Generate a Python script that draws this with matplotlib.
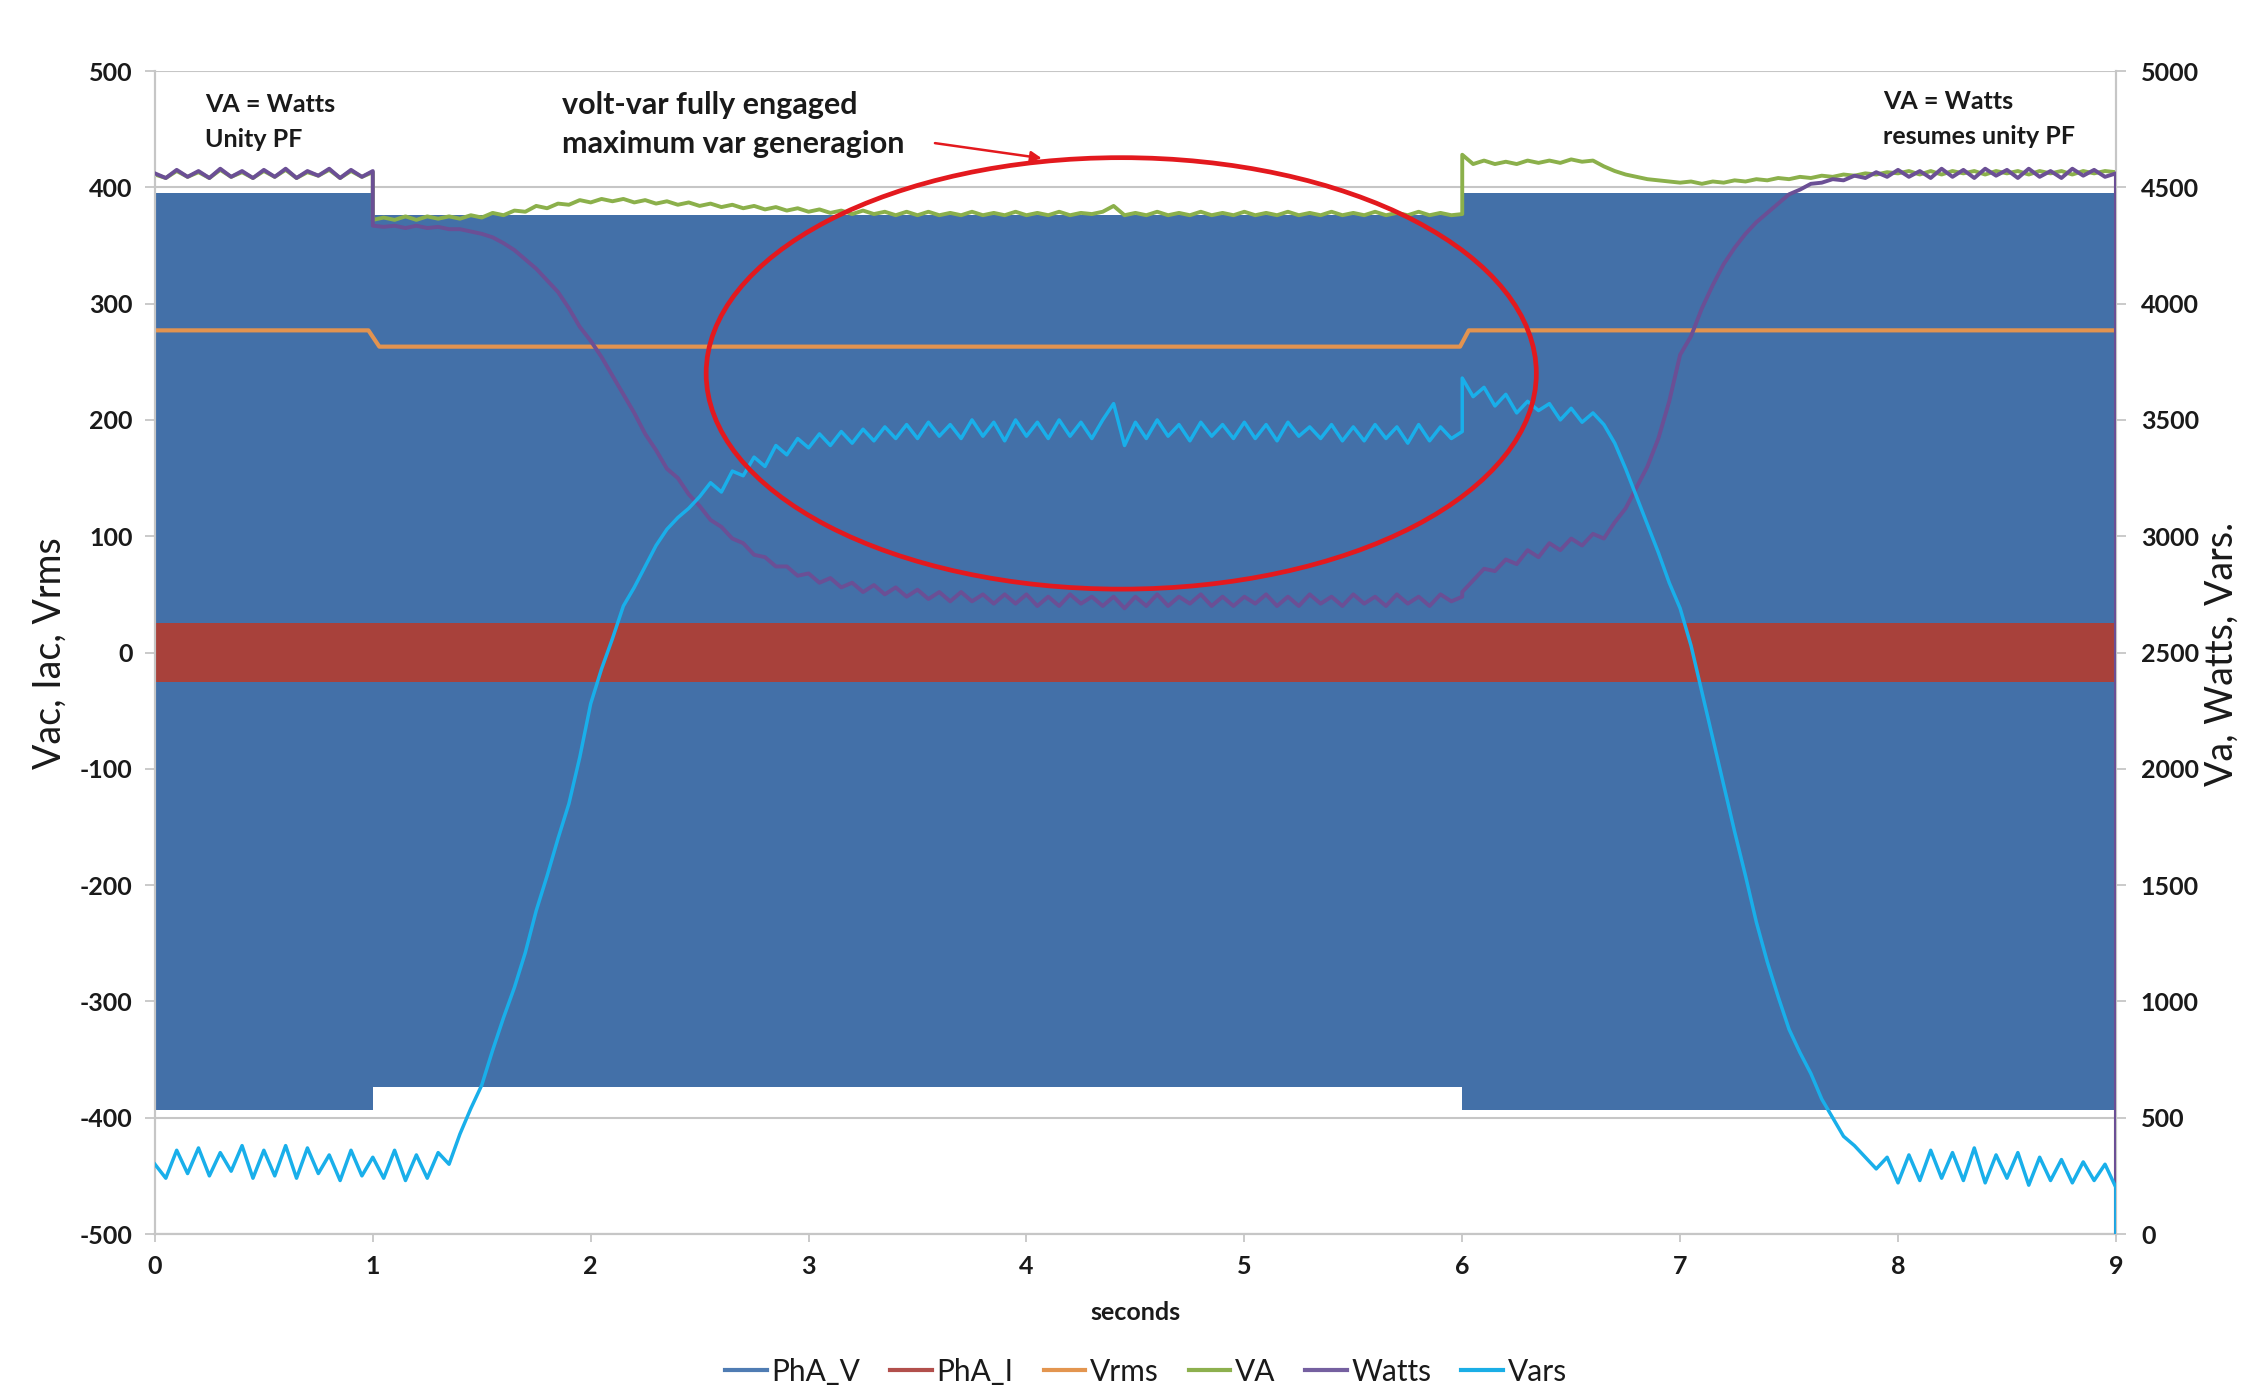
"""
Volt-var test: phase A voltage/current, Vrms, VA, Watts, Vars over 9 s
"""

import numpy as np
import matplotlib
matplotlib.use('Agg')
import matplotlib.pyplot as plt
from matplotlib.patches import Ellipse
from matplotlib.lines import Line2D

plt.rcParams['font.family'] = ['Lato', 'DejaVu Sans']

# --- data -----------------------------------------------------------------

# PhA_V drawn as its envelope (540 cycles of 60 Hz look like a solid block)
phav_t = [0.0, 1.0, 1.0, 6.0, 6.0, 9.0]
phav_hi = [395, 395, 376, 376, 395, 395]
phav_lo = [-393, -393, -374, -374, -393, -393]

# PhA_I envelope
phai_t = [0.0, 9.0]
phai_hi = [25, 25]
phai_lo = [-25, -25]

# Vrms
vrms_t = [0.0, 0.98, 1.03, 5.99, 6.03, 9.0]
vrms_v = [277, 277, 263, 263, 277, 277]

# right axis series, 0.05 s samples per segment (segments split at the steps)
va_0_1 = [4555, 4540, 4570, 4545, 4565, 4540, 4575, 4545, 4565, 4540,
          4570, 4545, 4575, 4540, 4565, 4550, 4575, 4540, 4570, 4545,
          4565]
va_1_6 = [4360, 4370, 4360, 4375, 4360, 4375, 4365, 4375, 4365, 4380,
          4370, 4390, 4380, 4400, 4395, 4420, 4410, 4430, 4425, 4445,
          4435, 4450, 4440, 4450, 4435, 4445, 4430, 4440, 4425, 4435,
          4420, 4430, 4415, 4425, 4410, 4420, 4405, 4415, 4400, 4410,
          4395, 4405, 4390, 4400, 4385, 4400, 4385, 4395, 4380, 4395,
          4380, 4395, 4380, 4390, 4380, 4395, 4380, 4390, 4380, 4395,
          4380, 4390, 4380, 4395, 4380, 4390, 4385, 4395, 4420, 4380,
          4390, 4380, 4395, 4380, 4390, 4380, 4395, 4380, 4390, 4380,
          4395, 4380, 4390, 4380, 4395, 4380, 4390, 4380, 4395, 4380,
          4390, 4380, 4395, 4380, 4390, 4380, 4395, 4380, 4390, 4380,
          4385]
va_6_9 = [4640, 4600, 4615, 4600, 4610, 4600, 4615, 4605, 4615, 4605,
          4620, 4610, 4615, 4590, 4570, 4555, 4545, 4535, 4530, 4525,
          4520, 4525, 4515, 4525, 4520, 4530, 4525, 4535, 4530, 4540,
          4535, 4545, 4540, 4550, 4545, 4555, 4550, 4560, 4555, 4565,
          4560, 4570, 4555, 4570, 4555, 4570, 4560, 4570, 4555, 4570,
          4560, 4570, 4555, 4570, 4560, 4570, 4555, 4570, 4560, 4570,
          4565]

watts_0_1 = [4560, 4540, 4575, 4545, 4570, 4540, 4580, 4545, 4570, 4540,
             4575, 4545, 4580, 4540, 4570, 4550, 4580, 4540, 4575, 4545,
             4570]
watts_1_6 = [4335, 4330, 4335, 4325, 4335, 4325, 4330, 4320, 4320, 4310,
             4300, 4285, 4260, 4230, 4190, 4150, 4100, 4050, 3980, 3900,
             3840, 3770, 3690, 3610, 3530, 3440, 3370, 3290, 3250, 3180,
             3130, 3070, 3040, 2990, 2970, 2920, 2910, 2870, 2870, 2830,
             2840, 2800, 2820, 2780, 2800, 2760, 2790, 2750, 2780, 2740,
             2770, 2730, 2760, 2720, 2760, 2720, 2750, 2710, 2750, 2710,
             2750, 2700, 2740, 2700, 2750, 2710, 2740, 2700, 2740, 2690,
             2740, 2700, 2750, 2700, 2740, 2710, 2750, 2700, 2740, 2700,
             2740, 2710, 2750, 2700, 2740, 2700, 2750, 2710, 2740, 2700,
             2750, 2710, 2740, 2700, 2750, 2710, 2740, 2700, 2750, 2720,
             2740]
watts_6_9 = [2760, 2810, 2860, 2850, 2900, 2880, 2940, 2910, 2970, 2940,
             2990, 2960, 3010, 2990, 3060, 3120, 3210, 3300, 3420, 3580,
             3780, 3860, 3980, 4080, 4170, 4240, 4300, 4350, 4390, 4430,
             4470, 4490, 4515, 4520, 4535, 4530, 4550, 4540, 4565, 4545,
             4575, 4545, 4570, 4540, 4580, 4545, 4575, 4540, 4580, 4550,
             4575, 4540, 4580, 4545, 4570, 4540, 4580, 4550, 4575, 4545,
             4560]

vars_0_1 = [300, 240, 360, 260, 370, 250, 350, 270, 380, 240,
            360, 250, 380, 240, 370, 260, 340, 230, 360, 250,
            330]
vars_1_6 = [330, 240, 360, 230, 340, 240, 350, 300, 430, 540,
            640, 790, 930, 1060, 1210, 1390, 1540, 1700, 1850, 2050,
            2280, 2430, 2560, 2700, 2780, 2870, 2960, 3030, 3080, 3120,
            3170, 3230, 3190, 3280, 3260, 3340, 3300, 3390, 3350, 3420,
            3380, 3440, 3390, 3450, 3400, 3460, 3410, 3470, 3420, 3480,
            3420, 3490, 3430, 3480, 3420, 3500, 3430, 3490, 3410, 3500,
            3430, 3490, 3420, 3500, 3430, 3490, 3420, 3500, 3570, 3390,
            3490, 3420, 3500, 3430, 3480, 3410, 3490, 3430, 3480, 3420,
            3490, 3420, 3480, 3410, 3490, 3430, 3470, 3420, 3480, 3410,
            3470, 3410, 3480, 3420, 3470, 3400, 3480, 3410, 3470, 3420,
            3450]
vars_6_9 = [3680, 3600, 3640, 3560, 3610, 3530, 3580, 3540, 3570, 3500,
            3550, 3490, 3530, 3480, 3400, 3290, 3170, 3050, 2930, 2800,
            2690, 2530, 2330, 2130, 1930, 1730, 1540, 1340, 1170, 1020,
            880, 780, 690, 580, 500, 420, 380, 330, 280, 330,
            220, 340, 230, 360, 240, 350, 230, 370, 220, 340,
            240, 350, 210, 330, 230, 320, 220, 310, 230, 300,
            200]

# last logged sample of the power channels is zero
end_value = [0]

x_ticks = list(range(0, 10))
left_ticks = list(range(-500, 501, 100))
right_ticks = list(range(0, 5001, 500))
legend_names = ['PhA_V', 'PhA_I', 'Vrms', 'VA', 'Watts', 'Vars']

# --- style -----------------------------------------------------------------
BLUE = '#4370A8'
RED = '#A8413B'
ORANGE = '#E29350'
GREEN = '#8BB04B'
PURPLE = '#6B4F95'
CYAN = '#19AFEA'
ELLIPSE_RED = '#E3191E'
GRID = '#C6C6C6'
TEXT = '#1A1A1A'


def seg_series(*segs):
    """Join segments (t_start, t_end, samples) into one time series"""
    ts, vs = [], []
    for a, b, vals in segs:
        ts.append(np.linspace(a, b, len(vals)))
        vs.append(np.asarray(vals, dtype=float))
    return np.concatenate(ts), np.concatenate(vs)


t_va, va = seg_series((0, 1, va_0_1), (1, 6, va_1_6), (6, 9, va_6_9), (9, 9, end_value))
t_w, watts = seg_series((0, 1, watts_0_1), (1, 6, watts_1_6), (6, 9, watts_6_9), (9, 9, end_value))
t_vars, vars_ = seg_series((0, 1, vars_0_1), (1, 6, vars_1_6), (6, 9, vars_6_9), (9, 9, end_value))

fig = plt.figure(figsize=(22.45, 13.87), dpi=100)
ax = fig.add_axes([0.0690, 0.1103, 0.8735, 0.8385])
ax2 = ax.twinx()

# primary axis series
ax.fill_between(phav_t, phav_lo, phav_hi, color=BLUE, lw=0, zorder=1)
ax.fill_between(phai_t, phai_lo, phai_hi, color=RED, lw=0, zorder=2)
ax.plot(vrms_t, vrms_v, color=ORANGE, lw=3, zorder=3)

# secondary axis series
ax2.plot(t_va, va, color=GREEN, lw=2.8, zorder=2)
ax2.plot(t_w, watts, color=PURPLE, lw=2.8, zorder=3)
ax2.plot(t_vars, vars_, color=CYAN, lw=2.5, zorder=4)

ax.set_xlim(0, 9)
ax.set_ylim(-500, 500)
ax2.set_ylim(0, 5000)

ax.yaxis.grid(True, color=GRID, lw=1.5)
ax.set_axisbelow(True)

for a in (ax, ax2):
    a.spines['top'].set_visible(False)
    for s in ('left', 'right', 'bottom'):
        a.spines[s].set_color(GRID)
        a.spines[s].set_linewidth(1.5)

ax.set_xticks(x_ticks, [str(v) for v in x_ticks], fontweight='bold')
ax.set_yticks(left_ticks, [str(v) for v in left_ticks], fontweight='bold')
ax2.set_yticks(right_ticks, [str(v) for v in right_ticks], fontweight='bold')
ax.tick_params(axis='x', direction='out', length=6, width=1.3, color=GRID,
               pad=9, labelsize=18, labelcolor=TEXT)
ax.tick_params(axis='y', direction='out', length=7, width=1.3, color=GRID,
               pad=9, labelsize=18, labelcolor=TEXT)
ax2.tick_params(axis='y', direction='out', length=7, width=1.3, color=GRID,
                pad=11, labelsize=18, labelcolor=TEXT)

# axis titles
fig.text(50 / 2245, 1 - 653 / 1387, 'Vac, Iac, Vrms', rotation=90,
         ha='center', va='center', fontsize=27, color=TEXT)
fig.text(2222 / 2245, 1 - 654 / 1387, 'Va, Watts, Vars.', rotation=90,
         ha='center', va='center', fontsize=27, color=TEXT)
fig.text(1135 / 2245, 1 - 1312 / 1387, 'seconds', ha='center', va='center',
         fontsize=18, fontweight='bold', color=TEXT)

# annotations
ax.text(0.23, 471, 'VA = Watts', fontsize=18, fontweight='bold', color=TEXT, va='center')
ax.text(0.23, 441, 'Unity PF', fontsize=18, fontweight='bold', color=TEXT, va='center')
ax.text(1.87, 471, 'volt-var fully engaged', fontsize=22, fontweight='bold',
        color=TEXT, va='center')
ax.text(1.87, 437, 'maximum var generagion', fontsize=22, fontweight='bold',
        color=TEXT, va='center')
ax.text(7.93, 474, 'VA = Watts', fontsize=18, fontweight='bold', color=TEXT, va='center')
ax.text(7.93, 444, 'resumes unity PF', fontsize=18, fontweight='bold', color=TEXT, va='center')

ax2.add_patch(Ellipse((4.435, 240), 3.81, 371, transform=ax.transData,
                      fill=False, edgecolor=ELLIPSE_RED, lw=3.4, zorder=10))
ax.annotate('', xy=(4.07, 425), xytext=(3.58, 438),
            arrowprops=dict(arrowstyle='-|>', color=ELLIPSE_RED, lw=1.8,
                            mutation_scale=16, shrinkA=0, shrinkB=0))

# legend
legend_colors = ['#4F7CB3', '#B24F4C', '#E3954F', '#8DB04E', '#7560A0', '#1AAEE6']
handles = [Line2D([0], [0], color=c, lw=3) for c in legend_colors]
fig.legend(handles, legend_names, loc='center', bbox_to_anchor=(0.5105, 0.011),
           ncol=6, frameon=False, fontsize=21.5, handlelength=1.4,
           handletextpad=0.15, columnspacing=1.0, labelcolor=TEXT)

fig.savefig('out.png', dpi=100)
